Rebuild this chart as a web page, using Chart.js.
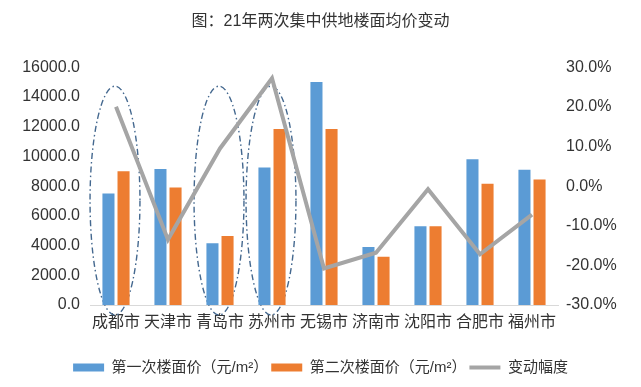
<!DOCTYPE html>
<html>
<head>
<meta charset="utf-8">
<script src="https://cdn.jsdelivr.net/npm/chart.js@4"></script>
<style>
  html, body { margin: 0; padding: 0; background: #fff; }
  #wrap { width: 641px; height: 387px; }
</style>
</head>
<body>
<div id="wrap"><canvas id="myChart" width="641" height="387"></canvas></div>
<script>
var categories = ['成都市', '天津市', '青岛市', '苏州市', '无锡市', '济南市', '沈阳市', '合肥市', '福州市'];
var firstPrice = [7500, 9150, 4150, 9250, 15000, 3900, 5300, 9800, 9100];
var secondPrice = [9000, 7900, 4650, 11850, 11850, 3250, 5300, 8150, 8450];
var changeRate = [20.0, -13.5, 9.5, 27.2, -20.8, -16.8, -0.8, -17.2, -7.2];
// cities circled with the dash-dot ellipses
var highlighted = ['成都市', '青岛市', '苏州市'];
var priceTicks = [0, 2000, 4000, 6000, 8000, 10000, 12000, 14000, 16000];
var rateTicks = [-30, -20, -10, 0, 10, 20, 30];

var FONT = "'Liberation Sans', 'Noto Sans CJK SC', sans-serif";

var ellipsePlugin = {
    id: 'ellipses',
    beforeDatasetsDraw: function (chart) {
        var ctx = chart.ctx;
        var area = chart.chartArea;
        var x = chart.scales.x;
        var step = x.getPixelForValue(1) - x.getPixelForValue(0);
        var top = area.top + 19;
        var bottom = area.bottom + 10;
        ctx.save();
        ctx.strokeStyle = '#44688f';
        ctx.lineWidth = 1.4;
        ctx.setLineDash([6, 3, 1.5, 3]);
        highlighted.forEach(function (name) {
            var cx = x.getPixelForValue(categories.indexOf(name)) - 1;
            ctx.beginPath();
            ctx.ellipse(cx, (top + bottom) / 2, step * 0.48, (bottom - top) / 2, 0, 0, Math.PI * 2);
            ctx.stroke();
        });
        ctx.restore();
    }
};

var ctx = document.getElementById('myChart').getContext('2d');
var myChart = new Chart(ctx, {
    type: 'bar',
    data: {
        labels: categories,
        datasets: [{
            label: '第一次楼面价（元/m²）',
            data: firstPrice,
            backgroundColor: '#5b9bd5',
            yAxisID: 'y',
            order: 2,
            categoryPercentage: 0.58,
            barPercentage: 0.8
        }, {
            label: '第二次楼面价（元/m²）',
            data: secondPrice,
            backgroundColor: '#ed7d31',
            yAxisID: 'y',
            order: 3,
            categoryPercentage: 0.58,
            barPercentage: 0.8
        }, {
            type: 'line',
            label: '变动幅度',
            data: changeRate,
            borderColor: '#a5a5a5',
            backgroundColor: '#a5a5a5',
            borderWidth: 4,
            pointRadius: 0,
            tension: 0,
            yAxisID: 'y1',
            order: 1
        }]
    },
    options: {
        responsive: false,
        animation: false,
        layout: { padding: { left: 0, right: 0, top: 0, bottom: 2 } },
        plugins: {
            title: {
                display: true,
                text: '图：21年两次集中供地楼面均价变动',
                color: '#333',
                font: { family: FONT, size: 16, weight: 'normal' },
                padding: { top: 12, bottom: 36 }
            },
            legend: {
                position: 'bottom',
                labels: {
                    usePointStyle: true,
                    pointStyleWidth: 31,
                    boxHeight: 8,
                    color: '#333',
                    font: { family: FONT, size: 15 },
                    padding: 3,
                    sort: function (a, b) { return a.datasetIndex - b.datasetIndex; },
                    generateLabels: function (chart) {
                        var items = Chart.defaults.plugins.legend.labels.generateLabels(chart);
                        items.forEach(function (it) {
                            it.pointStyle = it.datasetIndex === 2 ? 'line' : 'rect';
                            if (it.datasetIndex !== 2) { it.lineWidth = 0; }
                        });
                        return items;
                    }
                }
            },
            tooltip: { enabled: false }
        },
        scales: {
            x: {
                grid: { display: false, drawTicks: false },
                border: { color: '#d9d9d9', width: 1 },
                ticks: { color: '#333', font: { family: FONT, size: 16 }, padding: 8, maxRotation: 0 },
                afterFit: function (scale) { scale.height = 52; }
            },
            y: {
                position: 'left',
                min: priceTicks[0],
                max: priceTicks[priceTicks.length - 1],
                grid: { display: false, drawTicks: false },
                border: { display: false },
                afterBuildTicks: function (scale) {
                    scale.ticks = priceTicks.map(function (v) { return { value: v }; });
                },
                ticks: {
                    color: '#333',
                    font: { family: FONT, size: 16 },
                    padding: 10,
                    callback: function (v) { return Number(v).toFixed(1); }
                },
                afterFit: function (scale) { scale.width = 90; }
            },
            y1: {
                position: 'right',
                min: rateTicks[0],
                max: rateTicks[rateTicks.length - 1],
                grid: { display: false, drawTicks: false },
                border: { display: false },
                afterBuildTicks: function (scale) {
                    scale.ticks = rateTicks.map(function (v) { return { value: v }; });
                },
                ticks: {
                    color: '#333',
                    font: { family: FONT, size: 16 },
                    padding: 8,
                    callback: function (v) { return Number(v).toFixed(1) + '%'; }
                },
                afterFit: function (scale) { scale.width = 83; }
            }
        }
    },
    plugins: [ellipsePlugin]
});
</script>
</body>
</html>
